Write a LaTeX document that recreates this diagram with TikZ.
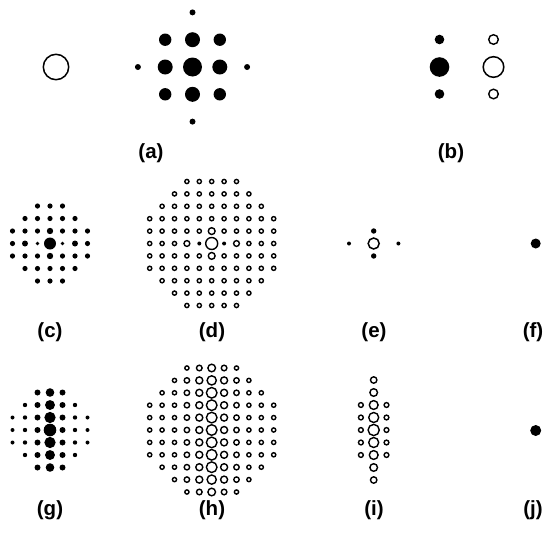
\documentclass[tikz,border=0pt]{standalone}
\usepackage{fontspec}
\setmainfont{Liberation Sans}
\usepackage{tikz}

\begin{document}
\begin{tikzpicture}[x=1pt, y=-1pt]
  \tikzstyle{spot} = [fill=black]
  \tikzstyle{ring} = [draw=black, line width=1.4pt]
  \tikzstyle{caption} = [anchor=base, inner sep=0pt, font=\fontsize{20.5}{24}\selectfont\bfseries]

  \useasboundingbox (0,0) rectangle (544,536);

  % (a)
  \draw[ring, line width=1.5pt] (56,67) circle (12.7pt);
  \fill[spot] (192.5,67) circle (9.5pt);
  \foreach \i/\j in {1/0,-1/0,0/1,0/-1}
    \fill[spot] (192.5+27.3*\i, 67+27.3*\j) circle (7.5pt);
  \foreach \i/\j in {1/1,1/-1,-1/1,-1/-1}
    \fill[spot] (192.5+27.3*\i, 67+27.3*\j) circle (6.2pt);
  \foreach \i/\j in {2/0,-2/0,0/2,0/-2}
    \fill[spot] (192.5+27.3*\i, 67+27.3*\j) circle (3pt);

  % (b)
  \fill[spot] (439.5,39.5) circle (4.8pt) (439.5,67) circle (9.8pt) (439.5,94) circle (4.8pt);
  \draw[ring] (493.5,39.5) circle (4.8pt) (493.5,94) circle (4.8pt);
  \draw[ring, line width=1.5pt] (493.5,67) circle (10.3pt);

  % (c)
  \foreach \i in {-3,...,3}
    \foreach \j in {-3,...,3} {
      \pgfmathsetmacro\rad{ifthenelse(\i*\i+\j*\j>10, 0,
        ifthenelse(\i==0 && \j==0, 6,
        ifthenelse(\j==0 && abs(\i)==1, 1.8,
        ifthenelse(\i==0 && abs(\j)==1, 3.2,
        ifthenelse(\j==0 && abs(\i)==2, 3, 2.6)))))}
      \ifdim\rad pt>0pt \fill[spot] (50+12.5*\i, 243.5+12.5*\j) circle (\rad pt); \fi
    }

  % (d)
  \foreach \i in {-5,...,5}
    \foreach \j in {-5,...,5} {
      \pgfmathsetmacro\rad{ifthenelse(\i*\i+\j*\j>29, 0,
        ifthenelse(\i==0 && \j==0, 6,
        ifthenelse(\j==0 && abs(\i)==1, 0,
        ifthenelse(\i==0 && abs(\j)==1, 3.4,
        ifthenelse(\j==0 && abs(\i)==2, 2.9, 2.1)))))}
      \ifdim\rad pt>0pt \draw[ring] (211.7+12.4*\i, 243.5+12.4*\j) circle (\rad pt); \fi
    }
  \fill[spot] (199.3,243.5) circle (2pt) (224.1,243.5) circle (2pt);

  % (e)
  \draw[ring, line width=1.5pt] (373.7,243.5) circle (5.5pt);
  \fill[spot] (373.7,231) circle (2.7pt) (373.7,256) circle (2.7pt);
  \fill[spot] (349,243.5) circle (2pt) (398.4,243.5) circle (2pt);

  % (f)
  \fill[spot] (535.7,243.5) circle (5pt);

  % (g)
  \foreach \i in {-3,...,3}
    \foreach \j in {-3,...,3} {
      \pgfmathsetmacro\rad{ifthenelse(\i*\i+\j*\j>10, 0,
        ifthenelse(\i==0, 6.3-0.67*abs(\j),
        ifthenelse(abs(\i)==1, 3,
        ifthenelse(abs(\i)==2, 2.2, 2))))}
      \ifdim\rad pt>0pt \fill[spot] (50+12.5*\i, 430+12.5*\j) circle (\rad pt); \fi
    }

  % (h)
  \foreach \i in {-5,...,5}
    \foreach \j in {-5,...,5} {
      \pgfmathsetmacro\rad{ifthenelse(\i*\i+\j*\j>29, 0,
        ifthenelse(\i==0, ifthenelse(abs(\j)<4, 5.3, ifthenelse(abs(\j)==4, 4.6, 3.8)),
        ifthenelse(abs(\i)==1, ifthenelse(abs(\j)==5, 2.8, 3.5),
        ifthenelse(abs(\i)==2 && abs(\j)<5, 2.7, 2.1))))}
      \ifdim\rad pt>0pt \draw[ring] (211.7+12.4*\i, 430+12.4*\j) circle (\rad pt); \fi
    }

  % (i)
  \foreach \j in {-4,...,4}
    \draw[ring] (373.7, 430+12.5*\j) circle ({5.6-0.6*abs(\j)});
  \foreach \i in {-1,1}
    \foreach \j in {-2,...,2}
      \draw[ring] (373.7+12.8*\i, 430+12.5*\j) circle (2.4pt);

  % (j)
  \fill[spot] (535.7,430.5) circle (5.5pt);

  \node[caption] (lab-a) at (151,158) {(a)};
  \node[caption] (lab-b) at (451,158) {(b)};
  \node[caption] (lab-c) at (50,337) {(c)};
  \node[caption] (lab-d) at (212,337) {(d)};
  \node[caption] (lab-e) at (374,337) {(e)};
  \node[caption] (lab-f) at (533,337) {(f)};
  \node[caption] (lab-g) at (50,515) {(g)};
  \node[caption] (lab-h) at (212,515) {(h)};
  \node[caption] (lab-i) at (374,515) {(i)};
  \node[caption] (lab-j) at (533,515) {(j)};
\end{tikzpicture}
\end{document}
